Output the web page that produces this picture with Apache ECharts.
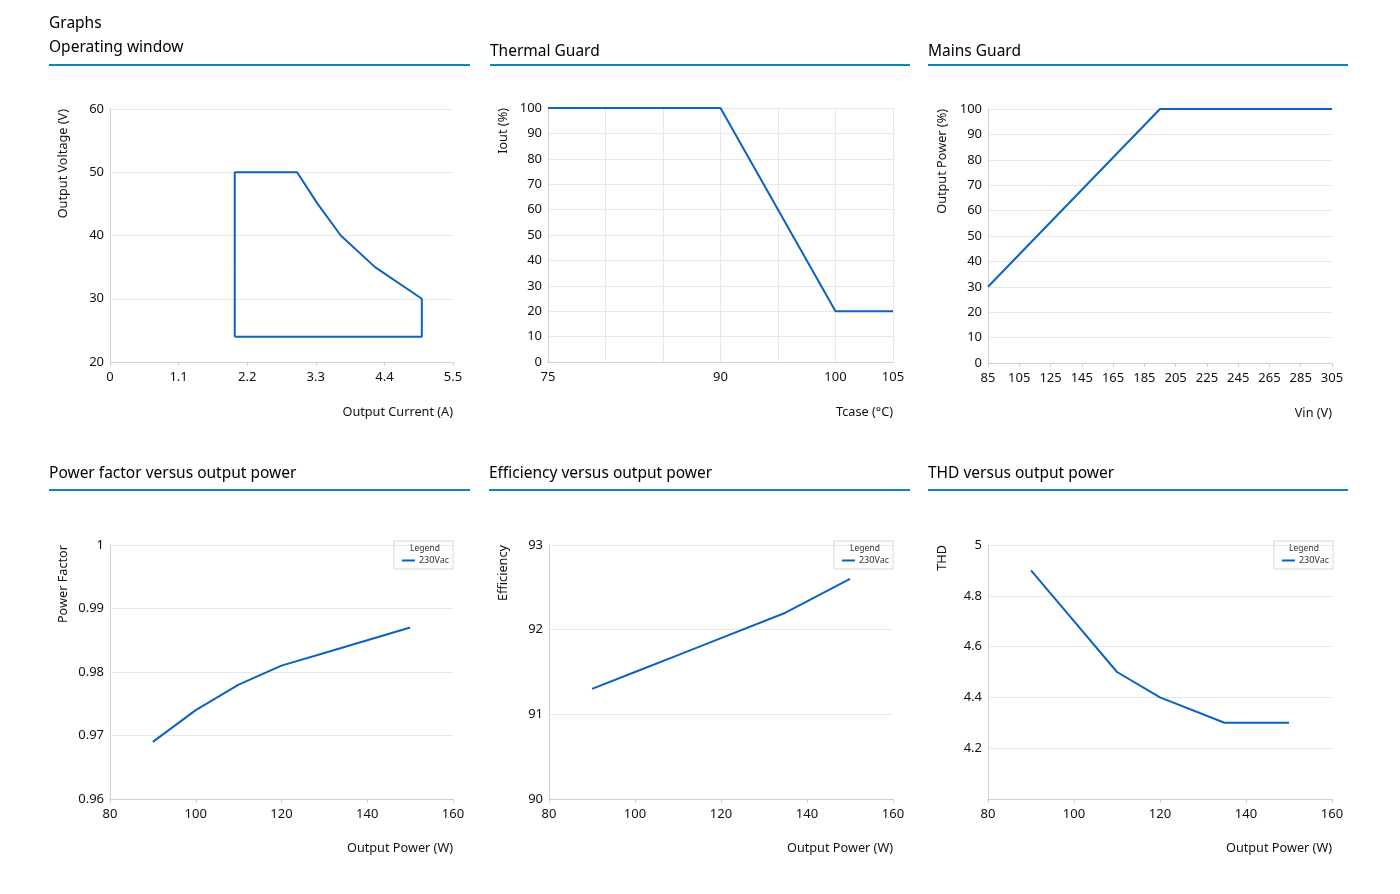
<!DOCTYPE html>
<html>
<head>
<meta charset="utf-8">
<script src="https://cdn.jsdelivr.net/npm/echarts@6/dist/echarts.min.js"></script>
<style>
html,body{margin:0;padding:0;background:#fff;}
#c{width:1400px;height:894px;}
</style>
</head>
<body>
<div id="c"></div>
<script>
// ---- Data ----
const opCurrent = [2.0, 2.0, 3.0, 3.33, 3.7, 4.25, 5.0, 5.0, 2.0];
const opVoltage = [24, 50, 50, 45, 40, 35, 30, 24, 24];

const thermalTcase = [75, 90, 100, 105];
const thermalIout = [100, 100, 20, 20];
const thermalXLabels = [75, 90, 100, 105];

const mainsVin = [85, 195, 305];
const mainsPower = [30, 100, 100];

const pfPower = [90, 100, 110, 120, 130, 140, 150];
const pfValues = [0.969, 0.974, 0.978, 0.981, 0.983, 0.985, 0.987];

const effPower = [90, 100, 110, 120, 135, 150];
const effValues = [91.3, 91.5, 91.7, 91.9, 92.2, 92.6];

const thdPower = [90, 100, 110, 120, 135, 150];
const thdValues = [4.9, 4.7, 4.5, 4.4, 4.3, 4.3];

const sectionTitles = ['Operating window', 'Thermal Guard', 'Mains Guard',
  'Power factor versus output power', 'Efficiency versus output power', 'THD versus output power'];
const legendName = '230Vac';

// ---- Styles ----
const FONT = 'Noto Sans';
const LINE = '#0b62c1';
const HEAD = '#0a84c6';
const AXIS = '#d0d0d0';
const GRID = '#e8e8e8';
const TXT = '#111';

function zip(a, b) { return a.map((v, i) => [v, b[i]]); }

function xName(padTop) {
  return { fontFamily: FONT, fontSize: 12.7, color: TXT, align: 'right', verticalAlign: 'top', padding: [padTop, 0, 0, 0] };
}
function xAxis(gi, min, max, interval, name, extra) {
  return Object.assign({
    type: 'value', gridIndex: gi, min: min, max: max, interval: interval,
    name: name, nameLocation: 'end', nameGap: 0,
    nameTextStyle: xName(44),
    axisLine: { show: true, lineStyle: { color: AXIS } },
    axisTick: { show: true, length: 4, lineStyle: { color: AXIS } },
    axisLabel: { fontFamily: FONT, fontSize: 13, color: TXT, margin: 9 },
    splitLine: { show: false }
  }, extra || {});
}
function yAxis(gi, min, max, interval, name, extra, pad) {
  return Object.assign({
    type: 'value', gridIndex: gi, min: min, max: max, interval: interval,
    name: name, nameLocation: 'end', nameGap: 0, nameRotate: 90,
    nameTextStyle: { fontFamily: FONT, fontSize: 12.7, color: TXT, align: 'right', verticalAlign: 'bottom', padding: [0, 0, pad || 40, 0] },
    axisLine: { show: true, lineStyle: { color: AXIS } },
    axisTick: { show: false },
    axisLabel: { fontFamily: FONT, fontSize: 13, color: TXT, margin: 6 },
    splitLine: { show: true, lineStyle: { color: GRID } }
  }, extra || {});
}
function lineSeries(name, xi, data) {
  return { type: 'line', name: name, xAxisIndex: xi, yAxisIndex: xi, data: data,
    symbol: 'none', lineStyle: { color: LINE, width: 2 }, itemStyle: { color: LINE },
    silent: true, animation: false };
}
function legend(right) {
  return { show: true, data: [legendName], right: right, top: 541, orient: 'vertical',
    borderColor: '#d8d8d8', borderWidth: 1, padding: [15, 4, 4, 8],
    icon: 'rect', itemWidth: 13, itemHeight: 2, itemGap: 2,
    textStyle: { fontFamily: FONT, fontSize: 9, color: '#333', padding: [0, 0, 0, -1] },
    selectedMode: false };
}

const chart = echarts.init(document.getElementById('c'), null, { renderer: 'canvas' });

const headers = [
  { x: 49, y: 48, lx1: 49, lx2: 470, ly: 65 },
  { x: 490, y: 52, lx1: 490, lx2: 910, ly: 65 },
  { x: 928, y: 52, lx1: 928, lx2: 1348, ly: 65 },
  { x: 49, y: 474, lx1: 49, lx2: 470, ly: 490 },
  { x: 489, y: 474, lx1: 489, lx2: 910, ly: 490 },
  { x: 928, y: 474, lx1: 928, lx2: 1348, ly: 490 }
];
const graphic = [{ type: 'text', x: 49, y: 24, style: { text: 'Graphs', fontFamily: FONT, fontSize: 15.5, fill: '#000', textVerticalAlign: 'middle' } }];
headers.forEach((h, i) => {
  graphic.push({ type: 'text', x: h.x, y: h.y, style: { text: sectionTitles[i], fontFamily: FONT, fontSize: 15.5, fill: '#000', textVerticalAlign: 'middle' } });
  graphic.push({ type: 'rect', shape: { x: h.lx1, y: h.ly - 1, width: h.lx2 - h.lx1, height: 2 }, style: { fill: HEAD } });
});
[425, 865, 1304].forEach(cx => {
  graphic.push({ type: 'text', x: cx, y: 549, z: 100, style: { text: 'Legend', fontFamily: FONT, fontSize: 8.5, fill: '#333', textAlign: 'center', textVerticalAlign: 'middle' } });
});

const option = {
  animation: false,
  backgroundColor: '#fff',
  grid: [
    { left: 110, top: 109, width: 343, height: 253 },
    { left: 548, top: 108, width: 345, height: 254 },
    { left: 988, top: 109, width: 344, height: 254 },
    { left: 110, top: 545, width: 343, height: 254 },
    { left: 549, top: 545, width: 344, height: 254 },
    { left: 988, top: 545, width: 344, height: 254 }
  ],
  xAxis: [
    xAxis(0, 0, 5.5, 1.1, 'Output Current (A)', { axisLabel: { fontFamily: FONT, fontSize: 13, color: TXT, margin: 9, formatter: v => v === 0 ? '0' : v.toFixed(1) } }),
    xAxis(1, 75, 105, 5, 'Tcase (°C)', {
      axisLabel: { fontFamily: FONT, fontSize: 13, color: TXT, margin: 9, formatter: v => thermalXLabels.indexOf(Math.round(v)) >= 0 ? String(Math.round(v)) : '' },
      axisTick: { show: false },
      splitLine: { show: true, lineStyle: { color: GRID } }
    }),
    xAxis(2, 85, 305, 20, 'Vin (V)'),
    xAxis(3, 80, 160, 20, 'Output Power (W)', { nameTextStyle: xName(43) }),
    xAxis(4, 80, 160, 20, 'Output Power (W)', { nameTextStyle: xName(43) }),
    xAxis(5, 80, 160, 20, 'Output Power (W)', { nameTextStyle: xName(43) })
  ],
  yAxis: [
    yAxis(0, 20, 60, 10, 'Output Voltage (V)'),
    yAxis(1, 0, 100, 10, 'Iout (%)', null, 38),
    yAxis(2, 0, 100, 10, 'Output Power (%)', null, 39),
    yAxis(3, 0.96, 1, 0.01, 'Power Factor', { axisLabel: { fontFamily: FONT, fontSize: 13, color: TXT, margin: 6, formatter: v => String(+v.toFixed(2)) } }),
    yAxis(4, 90, 93, 1, 'Efficiency', null, 39),
    yAxis(5, 4, 5, 0.2, 'THD', { axisLabel: { fontFamily: FONT, fontSize: 13, color: TXT, margin: 6, showMinLabel: false, formatter: v => String(+v.toFixed(1)) } }, 39)
  ],
  legend: [legend(947), legend(507), legend(67)],
  series: [
    lineSeries('Operating window', 0, zip(opCurrent, opVoltage)),
    lineSeries('Thermal Guard', 1, zip(thermalTcase, thermalIout)),
    lineSeries('Mains Guard', 2, zip(mainsVin, mainsPower)),
    lineSeries(legendName, 3, zip(pfPower, pfValues)),
    lineSeries(legendName, 4, zip(effPower, effValues)),
    lineSeries(legendName, 5, zip(thdPower, thdValues))
  ],
  graphic: graphic
};
chart.setOption(option);
</script>
</body>
</html>
